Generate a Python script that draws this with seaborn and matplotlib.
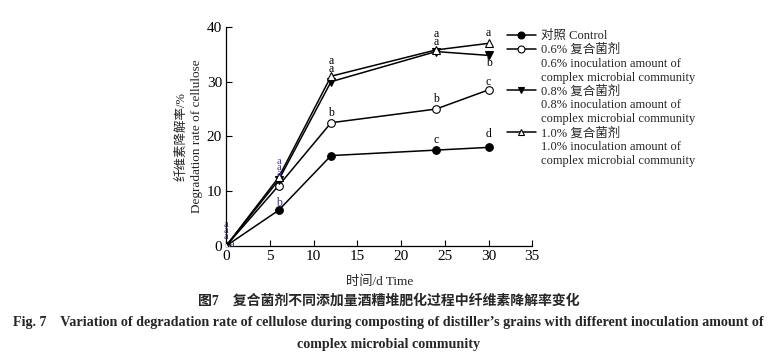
import matplotlib
matplotlib.use("Agg")
import matplotlib.pyplot as plt
import seaborn as sns
import pandas as pd
from matplotlib.lines import Line2D

sns.set_theme(style="ticks")
FAM = ['Liberation Serif', 'Noto Sans CJK SC', 'DejaVu Sans']
plt.rcParams['font.family'] = FAM

# ---- data ----
days = [0, 6, 12, 24, 30]
control = [0, 6.5, 16.5, 17.5, 18.0]
inoc06 = [0, 11.0, 22.5, 25.0, 28.5]
inoc08 = [0, 12.0, 30.0, 35.5, 34.8]
inoc10 = [0, 12.5, 31.0, 35.8, 37.0]

series_labels = ["对照 Control",
                 "0.6% 复合菌剂",
                 "0.8% 复合菌剂",
                 "1.0% 复合菌剂"]
series_sub = ["", "0.6% inoculation amount of", "0.8% inoculation amount of",
              "1.0% inoculation amount of"]
sub2 = "complex microbial community"

# significance letters
letters = [
    (0, 3.9, "a"), (0, 2.8, "a"), (0, 1.7, "a"), (0.7, 0.3, "a"),
    (6, 15.5, "a"), (6, 14.4, "a"), (6, 13.3, "a"), (6, 7.9, "b"),
    (12, 33.8, "a"), (12, 32.3, "a"), (12, 24.3, "b"),
    (24, 38.7, "a"), (24, 37.3, "a"), (24, 26.8, "b"), (24, 19.4, "c"),
    (30, 38.9, "a"), (30, 33.4, "b"), (30, 29.9, "c"), (30, 20.5, "d"),
]

fig = plt.figure(figsize=(7.77, 3.59), dpi=100)
ax = fig.add_axes([0.291, 0.315, 0.394, 0.61])

styles = [
    (control, 'o', 'black'),
    (inoc06, 'o', 'white'),
    (inoc08, 'v', 'black'),
    (inoc10, '^', 'white'),
]
for vals, mk, fc in styles:
    df = pd.DataFrame({"day": days, "rate": vals})
    sns.lineplot(data=df, x="day", y="rate", ax=ax, color='black', lw=1.1,
                 marker=mk, markersize=5.5, markerfacecolor=fc,
                 markeredgecolor='black', markeredgewidth=0.8, zorder=3)

for x, y, t in letters:
    col = '#3b2f86' if x < 7 else 'black'
    fs = 7.5 if x < 7 and t == 'a' else 8.5
    ax.text(x, y, t, ha='center', va='center', fontsize=fs, color=col,
            family=FAM)

ax.set_xlim(0, 35)
ax.set_ylim(0, 40)
ax.set_xticks(range(0, 36, 5))
ax.set_yticks(range(0, 41, 10))
ax.tick_params(direction='in', length=4, width=0.8, labelsize=11, pad=3,
               colors='black')
for s in ['top', 'right']:
    ax.spines[s].set_visible(False)
for s in ['left', 'bottom']:
    ax.spines[s].set_linewidth(0.9)
    ax.spines[s].set_color('black')
ax.set_xlabel("时间/d Time", fontsize=9.5, labelpad=9, family=FAM)
ax.set_ylabel("")
fig.text(0.233, 0.62, "纤维素降解率/%", rotation=90, ha='center', va='center',
         fontsize=9, family=FAM, color='#222222')
fig.text(0.253, 0.62, "Degradation rate of cellulose", rotation=90,
         ha='center', va='center', fontsize=9.5, family=FAM)

# legend
handles, labels = [], []
blank = Line2D([], [], color='none')
for i, (vals, mk, fc) in enumerate(styles):
    handles.append(Line2D([], [], color='black', lw=1.1, marker=mk, markersize=5,
                          markerfacecolor=fc, markeredgecolor='black',
                          markeredgewidth=0.8))
    labels.append(series_labels[i])
    if series_sub[i]:
        handles.append(blank); labels.append(series_sub[i])
        handles.append(blank); labels.append(sub2)
leg = fig.legend(handles, labels, loc='upper left', bbox_to_anchor=(0.638, 0.948),
                 frameon=False, handlelength=2.3, handletextpad=0.4,
                 labelspacing=0.14, prop={'family': FAM, 'size': 9})

fig.text(0.5, 0.163, "图7    复合菌剂不同添加量酒糟堆肥化过程中纤维素降解率变化",
         ha='center', va='center', fontsize=10, fontweight='bold', family=FAM)
fig.text(0.5, 0.103,
         "Fig. 7    Variation of degradation rate of cellulose during composting of distiller\u2019s grains with different inoculation amount of",
         ha='center', va='center', fontsize=10.2, fontweight='bold', family=FAM)
fig.text(0.5, 0.04, "complex microbial community", ha='center', va='center',
         fontsize=10.2, fontweight='bold', family=FAM)

fig.savefig("out.png", dpi=100)
